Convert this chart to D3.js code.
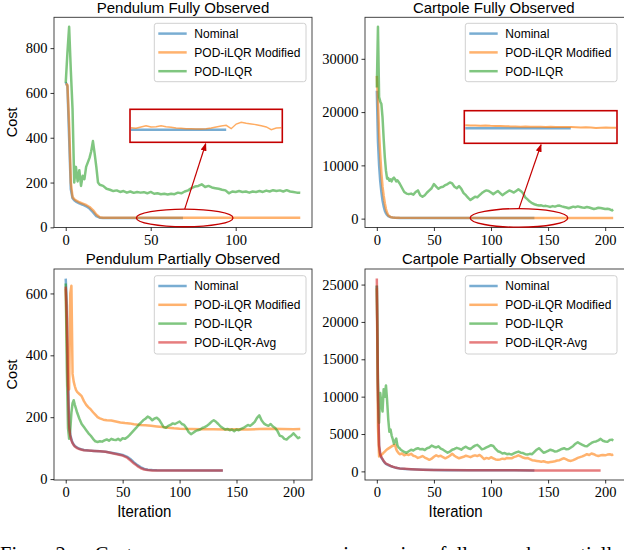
<!DOCTYPE html>
<html>
<head>
<meta charset="utf-8">
<script src="https://cdn.jsdelivr.net/npm/d3@7"></script>
<style>
  body { margin: 0; background: #fff; }
  svg { display: block; background: #fff; }
  .tick text { font-family: "Liberation Serif", serif; fill: #000; }
  .sans { font-family: "Liberation Sans", Arial, sans-serif; fill: #000; }
</style>
</head>
<body>
<svg id="fig" width="624" height="550"></svg>
<script>
// ---- legend names and tick labels ----
const seriesNames = ["Nominal", "POD-iLQR Modified", "POD-ILQR", "POD-iLQR-Avg"];
const pendFullXTicks = [0, 50, 100];
const wideXTicks = [0, 50, 100, 150, 200];
const pendFullYTicks = [0, 200, 400, 600, 800];
const cartFullYTicks = [0, 10000, 20000, 30000];
const pendPartYTicks = [0, 200, 400, 600];
const cartPartYTicks = [0, 5000, 10000, 15000, 20000, 25000];

// ---- Pendulum, fully observed: [iteration, cost] ----
const pendFullNominal = [[0,648],[1,630],[2,400],[3,170],[4,130],[5,121],[6,115],[8,107],[10,101],[12,94],[14,84],[16,68],[18,50],[20,43],[22,42],[69,42]];
const pendFullModified = [[0,640],[1,636],[2,460],[3,200],[4,136],[5,126],[6,120],[8,112],[10,106],[12,100],[14,91],[16,77],[18,57],[20,45],[22,43],[138,43]];
const pendFullPodIlqr = [[0,645],[1,780],[2,895],[3,700],[4,530],[5,200],[6,270],[7,205],[8,255],[9,185],[10,230],[11,215],[12,270],[13,290],[14,310],[15,340],[16,385],[17,330],[18,270],[19,200],[20,190],[22,185],[24,172],[26,168],[28,162],[30,165],[32,158],[34,162],[36,155],[38,160],[40,154],[42,158],[44,155],[46,157],[48,152],[50,158],[52,150],[54,152],[56,148],[58,150],[60,147],[62,150],[64,148],[66,155],[68,152],[70,160],[72,165],[74,175],[76,182],[78,185],[80,192],[82,180],[84,185],[86,178],[88,175],[90,172],[92,168],[94,165],[96,152],[98,160],[100,158],[102,162],[104,158],[106,160],[108,155],[110,160],[112,158],[114,162],[116,158],[118,164],[120,160],[122,166],[124,162],[126,165],[128,160],[130,166],[132,160],[134,158],[136,155],[138,154]];
// zoomed inset (one value per inset step)
const insetPendModified = [42.46,42.40,42.53,42.66,42.53,42.56,42.66,42.56,42.50,42.43,42.40,42.36,42.36,42.33,42.33,42.36,42.43,42.53,42.63,42.70,42.36,42.83,43.00,42.90,42.83,42.76,42.66,42.53,42.26,42.43,42.46];
const insetPendNominal = [42.26,42.26,42.26,42.26,42.26,42.26,42.26,42.26,42.26,42.26,42.26,42.26,42.26,42.26,42.26,42.26,42.26,42.26,42.26,42.26];

// ---- Cartpole, fully observed ----
const cartFullNominal = [[0,24000],[1,14500],[2,10000],[3,7000],[4,5000],[5,3400],[6,2300],[7,1500],[8,1000],[9,700],[10,480],[12,280],[14,190],[16,150],[20,135],[138,130]];
const cartFullModified = [[0,26800],[1,22000],[2,16000],[3,12000],[4,8500],[5,6000],[6,4300],[7,2900],[8,1800],[9,1100],[10,650],[12,320],[14,210],[16,165],[20,145],[207,140]];
const cartFullPodIlqr = [[0,24600],[1,36000],[2,22800],[3,22000],[4,21500],[5,19000],[6,15000],[7,11500],[8,9000],[9,7500],[10,7600],[11,7100],[12,7400],[13,7000],[14,7500],[15,7700],[16,7400],[17,7000],[18,7200],[20,6600],[22,5800],[24,5000],[26,4700],[28,4600],[30,4700],[32,4500],[34,5000],[36,5300],[38,4400],[40,4100],[42,4400],[44,4900],[46,5300],[48,5700],[50,6500],[52,6000],[54,5600],[56,5900],[58,6000],[60,6300],[62,6500],[64,6800],[66,6600],[68,6000],[70,5700],[72,6100],[74,5600],[76,4800],[78,4400],[80,3900],[82,3500],[84,3800],[86,4100],[88,4000],[90,4400],[92,4800],[94,5100],[96,5300],[98,5200],[100,4900],[102,4600],[104,4900],[106,5200],[108,4800],[110,4400],[112,4700],[114,5000],[116,5300],[118,5100],[120,4900],[122,5200],[124,5500],[126,5200],[128,4800],[130,4000],[132,3600],[134,3200],[136,2900],[138,2700],[140,2550],[142,2450],[144,2500],[146,2350],[148,2400],[150,2300],[152,2200],[154,2350],[156,2250],[158,2400],[160,2450],[162,2300],[164,2200],[166,2100],[168,1950],[170,2100],[172,2250],[174,2150],[176,2300],[178,2200],[180,2100],[182,2050],[184,2200],[186,2100],[188,1950],[190,1800],[192,1900],[194,2050],[196,2000],[198,1900],[200,1800],[202,1850],[204,1750],[206,1550],[207,1700]];
const insetCartModified = [144.2,143.8,143.5,143.2,143.4,142.8,142.5,142.6,142.0,141.5,141.2,140.8,141.0,140.6,140.8,140.5,140.2,140.6,140.0,140.3,140.0,139.8,139.5,138.8,139.4,139.0,137.8,138.4,138.9,138.2,138.4];
const insetCartNominal = [136.8,136.8,136.8,136.8,136.8,136.8,136.8,136.8,136.8,136.8,136.8,136.8,136.8,136.8,136.8,136.8,136.8,136.8,136.8,136.8,136.8,136.8];

// ---- Pendulum, partially observed ----
const pendPartNominal = [[0,648],[1,560],[2,320],[3,175],[4,145],[5,128],[6,118],[7,112],[8,107],[10,102],[12,98],[14,96],[16,94],[20,92],[25,91],[30,90],[35,88],[40,85],[45,82],[50,78],[54,72],[57,64],[60,54],[63,45],[66,38],[69,33],[72,30],[76,29],[80,28.5],[138,28]];
const pendPartModified = [[0,615],[1,450],[2,300],[3,290],[4,600],[5,625],[6,340],[7,315],[8,300],[9,288],[10,282],[12,275],[14,268],[16,252],[18,240],[20,232],[22,225],[24,216],[26,208],[28,200],[30,196],[33,192],[36,190],[40,189],[44,186],[48,183],[52,181],[56,180],[60,177],[65,175],[70,174],[75,172],[80,170],[85,168],[90,166],[95,164],[100,163],[110,162],[120,161],[130,161],[140,160],[150,161],[160,160],[170,162],[180,163],[190,162],[200,161],[206,162]];
const pendPartPodIlqr = [[0,632],[1,350],[2,165],[3,130],[4,160],[5,215],[6,245],[7,255],[8,240],[9,228],[10,215],[12,195],[14,178],[16,168],[18,158],[20,148],[22,140],[24,130],[26,122],[28,120],[30,122],[32,121],[34,125],[36,128],[38,124],[40,130],[42,127],[44,126],[46,130],[48,125],[50,132],[52,130],[54,135],[56,142],[58,150],[60,158],[62,166],[64,175],[66,182],[68,190],[70,195],[72,202],[74,198],[76,190],[78,196],[80,198],[82,192],[84,180],[86,168],[88,166],[90,172],[92,175],[94,180],[96,178],[98,182],[100,186],[102,178],[104,175],[106,165],[108,152],[110,145],[112,150],[114,155],[116,158],[118,160],[120,165],[122,168],[124,172],[126,178],[128,185],[130,190],[132,185],[134,178],[136,170],[138,165],[140,160],[142,162],[144,158],[146,160],[148,155],[150,160],[152,158],[154,162],[156,165],[158,170],[160,175],[162,172],[164,178],[166,185],[168,198],[170,206],[172,190],[174,180],[176,175],[178,172],[180,178],[182,170],[184,165],[186,155],[188,140],[190,138],[192,130],[194,128],[196,135],[198,140],[200,148],[202,140],[204,132],[206,136]];
const pendPartAvg = [[0,622],[1,520],[2,300],[3,165],[4,140],[5,125],[6,116],[7,110],[8,105],[10,100],[12,97],[14,95],[16,93],[20,92],[25,91],[30,90],[35,88],[40,84],[45,80],[50,76],[54,69],[57,60],[60,50],[63,42],[66,35],[69,31],[72,29],[76,28],[138,28]];

// ---- Cartpole, partially observed ----
const cartPartNominal = [[0,24800],[1,10000],[2,3300],[3,2200],[4,1850],[5,1600],[6,1350],[7,1150],[8,1000],[10,850],[12,720],[14,600],[16,520],[18,450],[20,400],[25,330],[30,280],[35,245],[40,215],[50,185],[60,165],[80,148],[100,140],[120,135],[138,132]];
const cartPartModified = [[0,24500],[1,6000],[2,2000],[3,2050],[4,2200],[5,2350],[6,2500],[7,2650],[8,2800],[9,2950],[10,3050],[11,3150],[12,3250],[13,3350],[14,3450],[15,3500],[16,3550],[17,2950],[18,2650],[19,2450],[20,2300],[22,2400],[24,2150],[26,2300],[28,2200],[30,2350],[32,2100],[34,2000],[36,1800],[38,1900],[40,2050],[42,1850],[44,1700],[46,1550],[48,1700],[50,1950],[52,2150],[54,2000],[56,2100],[58,1900],[60,1750],[62,1900],[64,2100],[66,2350],[68,2100],[70,1900],[72,1750],[74,1850],[76,1950],[78,2100],[80,2000],[82,1900],[84,2050],[86,2150],[88,2050],[90,2200],[92,1950],[94,1650],[96,1800],[98,1700],[100,1900],[102,1750],[104,1600],[106,1550],[108,1600],[110,1700],[112,1650],[114,1800],[116,1750],[118,1750],[120,1900],[122,2000],[124,2150],[126,2000],[128,1850],[130,1750],[132,1800],[134,1650],[136,1500],[138,1450],[140,1400],[142,1350],[144,1300],[146,1350],[148,1250],[150,1200],[152,1250],[154,1300],[156,1350],[158,1450],[160,1500],[162,1650],[164,1750],[166,1600],[168,1450],[170,1400],[172,1500],[174,1650],[176,1800],[178,1900],[180,2000],[182,2150],[184,2300],[186,2200],[188,2400],[190,2300],[192,2150],[194,2050],[196,2150],[198,2200],[200,2150],[202,2250],[204,2300],[206,2200],[207,2300]];
const cartPartPodIlqr = [[0,24900],[1,12000],[2,6500],[3,10500],[4,9000],[5,8000],[6,11000],[7,10000],[8,11500],[9,9500],[10,7000],[11,5300],[12,5600],[13,4800],[14,4300],[15,3700],[16,4100],[17,4400],[18,3500],[19,3200],[20,3100],[21,2900],[22,2800],[24,2600],[26,2500],[28,2700],[30,2900],[32,2800],[34,3000],[36,3100],[38,2950],[40,3000],[42,2850],[44,3100],[46,3200],[48,3450],[50,3300],[52,3200],[54,3350],[56,3050],[58,2900],[60,2700],[62,2500],[64,2650],[66,2900],[68,3000],[70,3150],[72,3050],[74,2900],[76,3150],[78,3300],[80,3100],[82,3000],[84,3250],[86,3450],[88,3550],[90,3300],[92,2950],[94,3050],[96,3200],[98,3350],[100,3500],[102,3400],[104,3000],[106,2700],[108,2600],[110,2400],[112,2450],[114,2300],[116,2350],[118,2250],[120,2400],[122,2550],[124,2650],[126,2500],[128,2450],[130,2300],[132,2250],[134,2350],[136,2300],[138,2600],[140,2900],[142,3100],[144,2800],[146,2500],[148,2600],[150,2750],[152,2900],[154,2800],[156,2650],[158,2700],[160,2850],[162,3000],[164,3100],[166,2950],[168,3000],[170,3200],[172,3400],[174,3700],[176,3900],[178,3700],[180,3550],[182,3400],[184,3350],[186,3600],[188,3800],[190,3950],[192,4000],[194,4150],[196,4350],[198,4100],[200,4000],[202,3950],[204,4200],[206,4250],[207,4100]];
const cartPartAvg = [[0,25800],[1,11000],[2,3500],[3,2300],[4,1900],[5,1650],[6,1400],[7,1200],[8,1050],[10,900],[12,750],[14,620],[16,530],[18,460],[20,400],[25,340],[30,290],[35,250],[40,220],[50,190],[60,170],[80,150],[100,140],[120,135],[140,130],[160,130],[180,130],[196,130]];

// ---- styling ----
const colors = ["#1f77b4", "#ff7f0e", "#2ca02c", "#d62728"];
const lineAlpha = 0.6;
const annot = "#c40000";

const svg = d3.select("#fig");

svg.append("defs").append("marker")
    .attr("id", "arrow")
    .attr("viewBox", "0 0 8 6")
    .attr("refX", 7).attr("refY", 3)
    .attr("markerWidth", 8).attr("markerHeight", 6)
    .attr("markerUnits", "userSpaceOnUse")
    .attr("orient", "auto")
  .append("path")
    .attr("d", "M0,0L8,3L0,6Z")
    .attr("fill", annot);

const panels = [
  { title: "Pendulum Fully Observed", box: [54, 17.3, 312, 227.5], titleY: 12.5,
    series: [pendFullNominal, pendFullModified, pendFullPodIlqr],
    xTicks: pendFullXTicks, yTicks: pendFullYTicks, yLabel: true, xLabel: false,
    legend: [154.3, 23.3],
    inset: { box: [130, 109.3, 282.3, 142.3], yDomain: [41, 44.3],
             lines: [[insetPendNominal, 0, 2.5], [insetPendModified, 1, 1.4]],
             ellipse: [70, 42, 48.3, 8.8], tip: [205.7, 143.8] } },
  { title: "Cartpole Fully Observed", box: [365, 17.3, 625, 227.5], titleY: 12.5,
    series: [cartFullNominal, cartFullModified, cartFullPodIlqr],
    xTicks: wideXTicks, yTicks: cartFullYTicks, yLabel: false, xLabel: false,
    legend: [465.3, 23.3],
    inset: { box: [464.3, 110.7, 617, 143.3], yDomain: [100, 180],
             lines: [[insetCartNominal, 0, 2.5], [insetCartModified, 1, 2]],
             ellipse: [124.5, 135, 48.8, 9.3], tip: [541, 144.8] } },
  { title: "Pendulum Partially Observed", box: [54, 269, 312, 480], titleY: 263.5,
    series: [pendPartNominal, pendPartModified, pendPartPodIlqr, pendPartAvg],
    xTicks: wideXTicks, yTicks: pendPartYTicks, yLabel: true, xLabel: true,
    legend: [154.3, 275.7] },
  { title: "Cartpole Partially Observed", box: [365, 269, 625, 480], titleY: 263.5,
    series: [cartPartNominal, cartPartModified, cartPartPodIlqr, cartPartAvg],
    xTicks: wideXTicks, yTicks: cartPartYTicks, yLabel: false, xLabel: true,
    legend: [465.3, 275.7] }
];

function padded(ext) {
  const pad = (ext[1] - ext[0]) * 0.05;  // matplotlib default margins
  return [ext[0] - pad, ext[1] + pad];
}

function drawPanel(p) {
  const [x0, y0, x1, y1] = p.box;
  const all = p.series.flat();
  const x = d3.scaleLinear(padded(d3.extent(all, d => d[0])), [x0, x1]);
  const y = d3.scaleLinear(padded(d3.extent(all, d => d[1])), [y1, y0]);
  const g = svg.append("g");

  const line = d3.line().x(d => x(d[0])).y(d => y(d[1]));
  p.series.forEach((s, i) => {
    g.append("path")
      .attr("d", line(s))
      .attr("fill", "none")
      .attr("stroke", colors[i])
      .attr("stroke-opacity", lineAlpha)
      .attr("stroke-width", 2.5)
      .attr("stroke-linejoin", "round");
  });

  // frame
  g.append("rect")
    .attr("x", x0).attr("y", y0)
    .attr("width", x1 - x0).attr("height", y1 - y0)
    .attr("fill", "none").attr("stroke", "#333").attr("stroke-width", 0.9);

  const xAxisG = g.append("g")
    .attr("transform", `translate(0,${y1})`)
    .call(d3.axisBottom(x).tickValues(p.xTicks).tickFormat(d3.format("d")).tickSize(3.5).tickPadding(3.5));
  const yAxisG = g.append("g")
    .attr("transform", `translate(${x0},0)`)
    .call(d3.axisLeft(y).tickValues(p.yTicks).tickFormat(d3.format("d")).tickSize(3.5).tickPadding(3));
  [xAxisG, yAxisG].forEach(a => {
    a.select(".domain").remove();
    a.attr("font-family", null).attr("font-size", 14.5);
    a.selectAll(".tick line").attr("stroke", "#000").attr("stroke-width", 0.8);
  });

  // title and axis labels
  g.append("text").attr("class", "sans")
    .attr("x", (x0 + Math.min(x1, 624.5)) / 2 - (x1 > 624 ? 1 : 0)).attr("y", p.titleY)
    .attr("text-anchor", "middle").attr("font-size", 15)
    .text(p.title);
  if (p.yLabel) {
    g.append("text").attr("class", "sans")
      .attr("transform", `translate(17,${(y0 + y1) / 2}) rotate(-90)`)
      .attr("text-anchor", "middle").attr("font-size", 14.5)
      .text("Cost");
  }
  if (p.xLabel) {
    g.append("text").attr("class", "sans")
      .attr("transform", `translate(${x(69)},516.5) scale(1,1.15)`)
      .attr("text-anchor", "middle").attr("font-size", 15)
      .text("Iteration");
  }

  if (p.inset) drawInset(g, p.inset, x, y);

  // legend
  const [lx, ly] = p.legend;
  const n = p.series.length;
  const lg = g.append("g").attr("transform", `translate(${lx},${ly})`);
  lg.append("rect")
    .attr("width", 151.7).attr("height", n * 19.9 - 1.3)
    .attr("rx", 2.5)
    .attr("fill", "#fff").attr("fill-opacity", 0.8)
    .attr("stroke", "#d0d0d0").attr("stroke-width", 1);
  seriesNames.slice(0, n).forEach((name, i) => {
    const ry = 10.3 + i * 18.8;
    lg.append("line")
      .attr("x1", 4).attr("x2", 32.4).attr("y1", ry).attr("y2", ry)
      .attr("stroke", colors[i]).attr("stroke-opacity", lineAlpha).attr("stroke-width", 2.5);
    lg.append("text").attr("class", "sans")
      .attr("x", 40).attr("y", ry).attr("dy", "0.36em")
      .attr("font-size", 12)
      .text(name);
  });
}

function drawInset(g, inset, x, y) {
  const [bx0, by0, bx1, by1] = inset.box;
  const ix = d3.scaleLinear([0, 30], [bx0 + 1, bx1 - 1]);
  const iy = d3.scaleLinear(inset.yDomain, [by1, by0]);
  const iline = d3.line().x((d, i) => ix(i)).y(d => iy(d));
  inset.lines.forEach(([vals, ci, w]) => {
    g.append("path")
      .attr("d", iline(vals))
      .attr("fill", "none")
      .attr("stroke", colors[ci]).attr("stroke-opacity", ci === 0 ? 0.6 : 0.65)
      .attr("stroke-width", w);
  });
  g.append("rect")
    .attr("x", bx0).attr("y", by0)
    .attr("width", bx1 - bx0).attr("height", by1 - by0)
    .attr("fill", "none").attr("stroke", annot).attr("stroke-width", 1.6);

  const [eIt, eCost, rx, ry] = inset.ellipse;
  const cx = x(eIt), cy = y(eCost);
  g.append("ellipse")
    .attr("cx", cx).attr("cy", cy).attr("rx", rx).attr("ry", ry)
    .attr("fill", "none").attr("stroke", annot).attr("stroke-width", 1.3);
  g.append("line")
    .attr("x1", cx).attr("y1", cy - ry)
    .attr("x2", inset.tip[0]).attr("y2", inset.tip[1])
    .attr("stroke", annot).attr("stroke-width", 1.2)
    .attr("marker-end", "url(#arrow)");
}

panels.forEach(drawPanel);

// cropped caption line from the paper (only the tops of the tall letters show)
svg.append("text")
  .attr("x", 0).attr("y", 560.5)
  .attr("font-family", "Liberation Serif, serif")
  .attr("font-size", 20.5)
  .attr("word-spacing", 18)
  .text("Fig. 2: Cost convergence comparison in fully and partially");
</script>
</body>
</html>
